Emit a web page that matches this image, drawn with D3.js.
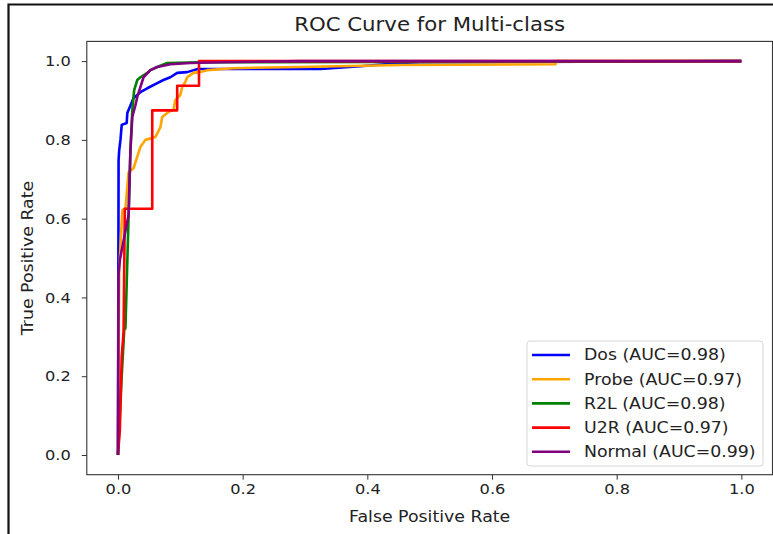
<!DOCTYPE html>
<html>
<head>
<meta charset="utf-8">
<script src="https://cdn.jsdelivr.net/npm/d3@7"></script>
<style>
  body { margin: 0; background: #fff; }
  svg text { font-family: "DejaVu Sans", sans-serif; fill: #222; }
  .axis path, .axis line { stroke: #333; }
</style>
</head>
<body>
<div id="wrapper"></div>
<script>
// 1. Data

const classNames = ["Dos", "Probe", "R2L", "U2R", "Normal"]
const aucValues = [0.98, 0.97, 0.98, 0.97, 0.99]
const xTicks = [0, 0.2, 0.4, 0.6, 0.8, 1.0]
const yTicks = [0, 0.2, 0.4, 0.6, 0.8, 1.0]

// [fpr, tpr] points for each class
const dosRoc = [
  [0, 0], [0.001, 0.749], [0.002, 0.774], [0.004, 0.8], [0.006, 0.838],
  [0.014, 0.843], [0.015, 0.868], [0.025, 0.906], [0.036, 0.921], [0.047, 0.931],
  [0.063, 0.944], [0.073, 0.952], [0.084, 0.959], [0.095, 0.97], [0.111, 0.972],
  [0.128, 0.98], [0.325, 0.98], [0.389, 0.987], [0.453, 0.995], [0.485, 0.997],
  [1, 1]
]
const probeRoc = [
  [0, 0], [0.002, 0.47], [0.007, 0.622], [0.012, 0.627], [0.017, 0.718],
  [0.025, 0.728], [0.036, 0.782], [0.044, 0.8], [0.06, 0.807], [0.068, 0.832],
  [0.071, 0.858], [0.081, 0.871], [0.089, 0.876], [0.092, 0.901], [0.1, 0.914],
  [0.103, 0.934], [0.108, 0.947], [0.111, 0.959], [0.121, 0.97], [0.132, 0.972],
  [0.143, 0.977], [0.185, 0.982], [0.293, 0.985], [0.453, 0.99], [0.702, 0.992],
  [0.702, 1], [1, 1]
]
const r2lRoc = [
  [0, 0], [0.006, 0.2], [0.01, 0.317], [0.012, 0.322], [0.017, 0.604],
  [0.02, 0.774], [0.023, 0.876], [0.026, 0.926], [0.031, 0.952], [0.036, 0.959],
  [0.047, 0.97], [0.052, 0.977], [0.063, 0.985], [0.079, 0.995], [0.132, 0.997],
  [1, 1]
]
const u2rRoc = [
  [0, 0], [0.003, 0.0625], [0.006, 0.25], [0.009, 0.3125], [0.011, 0.625],
  [0.055, 0.625], [0.055, 0.875], [0.095, 0.875], [0.095, 0.9375],
  [0.13, 0.9375], [0.13, 1], [1, 1]
]
const normalRoc = [
  [0, 0], [0.001, 0.46], [0.003, 0.495], [0.017, 0.609], [0.02, 0.774],
  [0.023, 0.858], [0.028, 0.888], [0.031, 0.909], [0.041, 0.959], [0.052, 0.977],
  [0.063, 0.985], [0.084, 0.992], [0.116, 0.995], [0.169, 0.997], [0.293, 1],
  [1, 1]
]
const rocCurves = [dosRoc, probeRoc, r2lRoc, u2rRoc, normalRoc]
const lineColors = ["blue", "orange", "green", "red", "purple"]

// 2. Dimensions

const dimensions = {
  width: 773,
  height: 534,
  plot: { left: 86.8, right: 772.5, top: 41.4, bottom: 474.7 },
}
// the reference text is a little wider than DejaVu Sans
const stretch = 1.12

// 3. Canvas

const svg = d3.select("#wrapper")
  .append("svg")
    .attr("width", dimensions.width)
    .attr("height", dimensions.height)

// screenshot frame (left and top edges)
svg.append("path")
  .attr("d", "M8.5,534V4.5H773")
  .attr("fill", "none")
  .attr("stroke", "#111")
  .attr("stroke-width", 2.2)

// 4. Scales

const xScale = d3.scaleLinear()
  .domain([-0.05, 1.05])
  .range([dimensions.plot.left, dimensions.plot.right])

const yScale = d3.scaleLinear()
  .domain([-0.05, 1.05])
  .range([dimensions.plot.bottom, dimensions.plot.top])

// 5. Draw data

const lineGenerator = d3.line()
  .x(d => xScale(d[0]))
  .y(d => yScale(d[1]))

svg.append("g")
  .selectAll("path")
  .data(rocCurves)
  .join("path")
    .attr("d", lineGenerator)
    .attr("fill", "none")
    .attr("stroke", (d, i) => lineColors[i])
    .attr("stroke-width", 2.6)
    .attr("stroke-linejoin", "round")

// 6. Peripherals

const stretchText = selection => selection.each(function() {
  const t = d3.select(this)
  const x = +t.attr("x") || 0
  const y = +t.attr("y") || 0
  t.attr("x", null).attr("y", null)
    .attr("transform", `translate(${x},${y}) scale(${stretch},1)`)
})

const xAxis = svg.append("g")
  .attr("class", "axis")
  .attr("transform", `translate(0,${dimensions.plot.bottom})`)
  .call(d3.axisBottom(xScale).tickValues(xTicks).tickFormat(d3.format(".1f"))
    .tickSize(5).tickSizeOuter(0).tickPadding(4))
xAxis.select(".domain").remove()

const yAxis = svg.append("g")
  .attr("class", "axis")
  .attr("transform", `translate(${dimensions.plot.left},0)`)
  .call(d3.axisLeft(yScale).tickValues(yTicks).tickFormat(d3.format(".1f"))
    .tickSize(5).tickSizeOuter(0).tickPadding(11))
yAxis.select(".domain").remove()

svg.selectAll(".axis text")
  .style("font-size", "14.5px")
  .attr("fill", "#222")
  .call(stretchText)

// frame
svg.append("rect")
  .attr("x", dimensions.plot.left)
  .attr("y", dimensions.plot.top)
  .attr("width", dimensions.plot.right - dimensions.plot.left)
  .attr("height", dimensions.plot.bottom - dimensions.plot.top)
  .attr("fill", "none")
  .attr("stroke", "#333")
  .attr("stroke-width", 1.1)

svg.append("text")
  .attr("x", (dimensions.plot.left + dimensions.plot.right) / 2)
  .attr("y", 31)
  .attr("text-anchor", "middle")
  .style("font-size", "19px")
  .text("ROC Curve for Multi-class")
  .call(stretchText)

svg.append("text")
  .attr("x", (dimensions.plot.left + dimensions.plot.right) / 2)
  .attr("y", 522)
  .attr("text-anchor", "middle")
  .style("font-size", "15.5px")
  .text("False Positive Rate")
  .call(stretchText)

svg.append("text")
  .attr("transform", `translate(33,${(dimensions.plot.top + dimensions.plot.bottom) / 2}) rotate(-90) scale(${stretch},1)`)
  .attr("text-anchor", "middle")
  .style("font-size", "15.5px")
  .text("True Positive Rate")

// legend
const legend = svg.append("g")
  .attr("transform", "translate(527,341)")

legend.append("rect")
  .attr("width", 236)
  .attr("height", 125)
  .attr("rx", 3)
  .attr("fill", "#fff")
  .attr("stroke", "#d6d6d6")

const legendItems = legend.selectAll(".legend-item")
  .data(classNames)
  .join("g")
    .attr("class", "legend-item")
    .attr("transform", (d, i) => `translate(0,${14 + i * 24.2})`)

legendItems.append("line")
  .attr("x1", 5)
  .attr("x2", 43)
  .attr("stroke", (d, i) => lineColors[i])
  .attr("stroke-width", 2.6)

legendItems.append("text")
  .attr("x", 57)
  .attr("y", 5.4)
  .style("font-size", "15.5px")
  .text((d, i) => `${d} (AUC=${aucValues[i].toFixed(2)})`)
  .call(stretchText)
</script>
</body>
</html>
